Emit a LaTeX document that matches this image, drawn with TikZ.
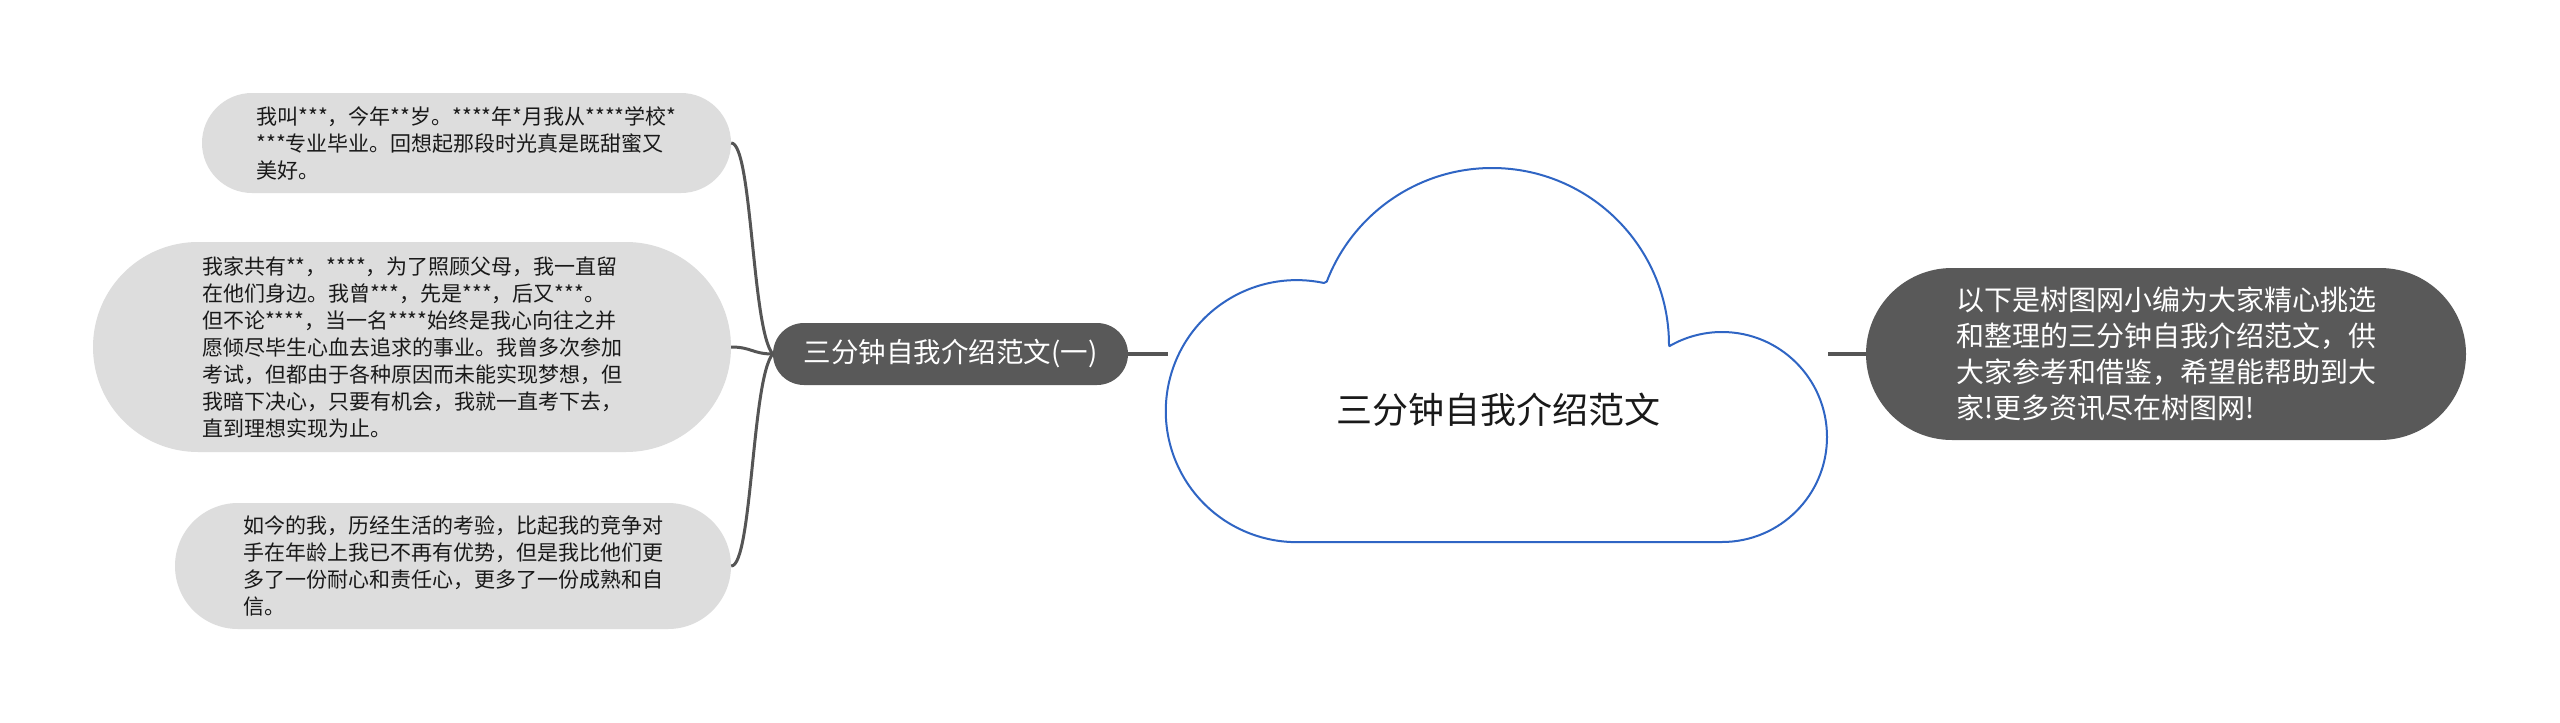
\documentclass[tikz,border=0pt]{standalone}
\usepackage{fontspec}
\setmainfont{Noto Sans CJK SC}
\usepackage{xcolor}
\usetikzlibrary{positioning, calc}

\definecolor{leafgray}{HTML}{DDDDDD}
\definecolor{nodegray}{HTML}{595959}
\definecolor{linegray}{HTML}{555555}
\definecolor{cloudblue}{HTML}{2F65C4}

\begin{document}
\begin{tikzpicture}[
  x=1pt, y=-1pt,
  leaf/.style={fill=leafgray, align=left, text=black!90, inner sep=0pt,
    font=\fontsize{21}{27}\selectfont},
  topic/.style={fill=nodegray, align=left, text=white, inner sep=0pt,
    font=\fontsize{27.5}{36}\selectfont},
  branch/.style={draw=linegray, line width=3pt},
  trunk/.style={draw=linegray, line width=4pt},
  cloudline/.style={draw=cloudblue, line width=2pt, line join=round},
]
\useasboundingbox[fill=white] (0,0) rectangle (2560,723);

% 中心云朵
\draw[cloudline] (1669,345) arc[start angle=0, end angle=-159, radius=177]
  -- (1324,283) arc[start angle=-78, end angle=-270, radius=131]
  -- (1722,542) arc[start angle=90, end angle=-120, radius=105] -- cycle;
\node[font=\fontsize{36}{44}\selectfont, text=black!90] (root) at (1498,410) {三分钟自我介绍范文};
\coordinate (cloudW) at (1168,354);
\coordinate (cloudE) at (1828,354);

% 分支
\node[topic, rounded corners=31, minimum width=355, minimum height=62] (part1) at (950.5,354) {三分钟自我介绍范文(一)};
\node[topic, rounded corners=86, minimum width=600, minimum height=172,
  font=\fontsize{28}{36}\selectfont] (summary) at (2166,354)
  {以下是树图网小编为大家精心挑选\\和整理的三分钟自我介绍范文，供\\大家参考和借鉴，希望能帮助到大\\家!更多资讯尽在树图网!};

% 叶子
\node[leaf, rounded corners=50, minimum width=529, minimum height=100] (intro) at (466.5,143)
  {我叫***，今年**岁。****年*月我从****学校*\\{}***专业毕业。回想起那段时光真是既甜蜜又\\美好。};
\node[leaf, rounded corners=105, minimum width=638, minimum height=210] (family) at (412,347)
  {我家共有**，****，为了照顾父母，我一直留\\在他们身边。我曾***，先是***，后又***。\\但不论****，当一名****始终是我心向往之并\\愿倾尽毕生心血去追求的事业。我曾多次参加\\考试，但都由于各种原因而未能实现梦想，但\\我暗下决心，只要有机会，我就一直考下去，\\直到理想实现为止。};
\node[leaf, rounded corners=63, minimum width=556, minimum height=126] (now) at (453,566)
  {如今的我，历经生活的考验，比起我的竞争对\\手在年龄上我已不再有优势，但是我比他们更\\多了一份耐心和责任心，更多了一份成熟和自\\信。};

% 连线
\draw[trunk] (part1.east) -- (cloudW);
\draw[trunk] (cloudE) -- (summary.west);
\draw[branch] (part1.west) .. controls +(-21,-24) and +(21,0) .. (intro.east);
\draw[branch] (part1.west) .. controls +(-20,0) and +(20,0) .. (family.east);
\draw[branch] (part1.west) .. controls +(-21,24) and +(21,0) .. (now.east);

\end{tikzpicture}
\end{document}
